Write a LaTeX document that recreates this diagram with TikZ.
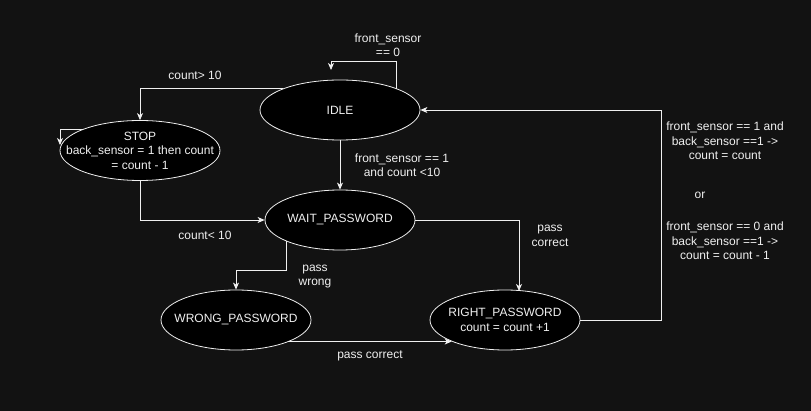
\documentclass[tikz,border=0pt]{standalone}
\usepackage{fontspec}
\setmainfont{Liberation Sans}
\usetikzlibrary{shapes.geometric,arrows.meta,calc}
\definecolor{bg}{HTML}{121212}
\definecolor{fg}{HTML}{F0F0F0}
\begin{document}
\begin{tikzpicture}[x=1pt,y=-1pt,
  st/.style={ellipse, draw=fg, fill=black, line width=0.8pt, minimum width=160, minimum height=60, inner sep=0},
  stn/.style={st, minimum width=150},
  txt/.style={text=fg, align=center, font=\fontsize{12}{14.5}\selectfont, inner sep=0},
  arr/.style={draw=fg, line width=0.8pt, -{Stealth[length=7pt,width=6pt,inset=2pt]}}]
\useasboundingbox[fill=bg] (0,0) rectangle (811,411);

\node[st, label={[txt]center:IDLE}] (idle) at (340,110) {};
\node[st, label={[txt]center:STOP\\back\_sensor = 1 then count\\= count - 1}] (stop) at (140,150.5) {};
\node[stn, label={[txt]center:WAIT\_PASSWORD}] (wait) at (340,220) {};
\node[stn, label={[txt]center:WRONG\_PASSWORD}] (wrong) at (236,320) {};
\node[stn, label={[txt]center:RIGHT\_PASSWORD\\count = count +1}] (right) at (505,320) {};

\coordinate (il1) at (331,61);
\coordinate (il2) at (331,70);
\coordinate (sl) at (60,145);
\coordinate (rt) at (519,291);
\coordinate (rc) at (661,320);

\draw[arr] (idle.north east) |- (il1) -- (il2);
\draw[arr] (idle.north west) -| (stop.north);
\draw[arr] (stop.north west) -| (sl);
\draw[arr] (stop.south) |- (wait.west);
\draw[arr] (idle.south) -- (wait.north);
\draw[arr] (wait.east) -| (rt);
\draw[arr] (wait.south west) -- ++(0,29) -| (wrong.north);
\draw[arr] (wrong.south east) -- (right.south west);
\draw[arr] (right.east) -- (rc) |- (idle.east);

\node[txt] (l1) at (388,45) {front\_sensor\\== 0};
\node[txt] (l2) at (195,75) {count> 10};
\node[txt] (l3) at (402,165) {front\_sensor == 1\\and count <10};
\node[txt] (l4) at (205,235) {count< 10};
\node[txt] (l5) at (315,276.5) {pass\\wrong};
\node[txt] (l6) at (550,236) {pass\\correct};
\node[txt] (l7) at (370,355.5) {pass correct};
\node[txt] (l8) at (725,141) {front\_sensor == 1 and\\back\_sensor ==1 ->\\count = count};
\node[txt] (l9) at (700,195.5) {or};
\node[txt] (l10) at (725,241) {front\_sensor == 0 and\\back\_sensor ==1 ->\\count = count - 1};
\end{tikzpicture}
\end{document}
